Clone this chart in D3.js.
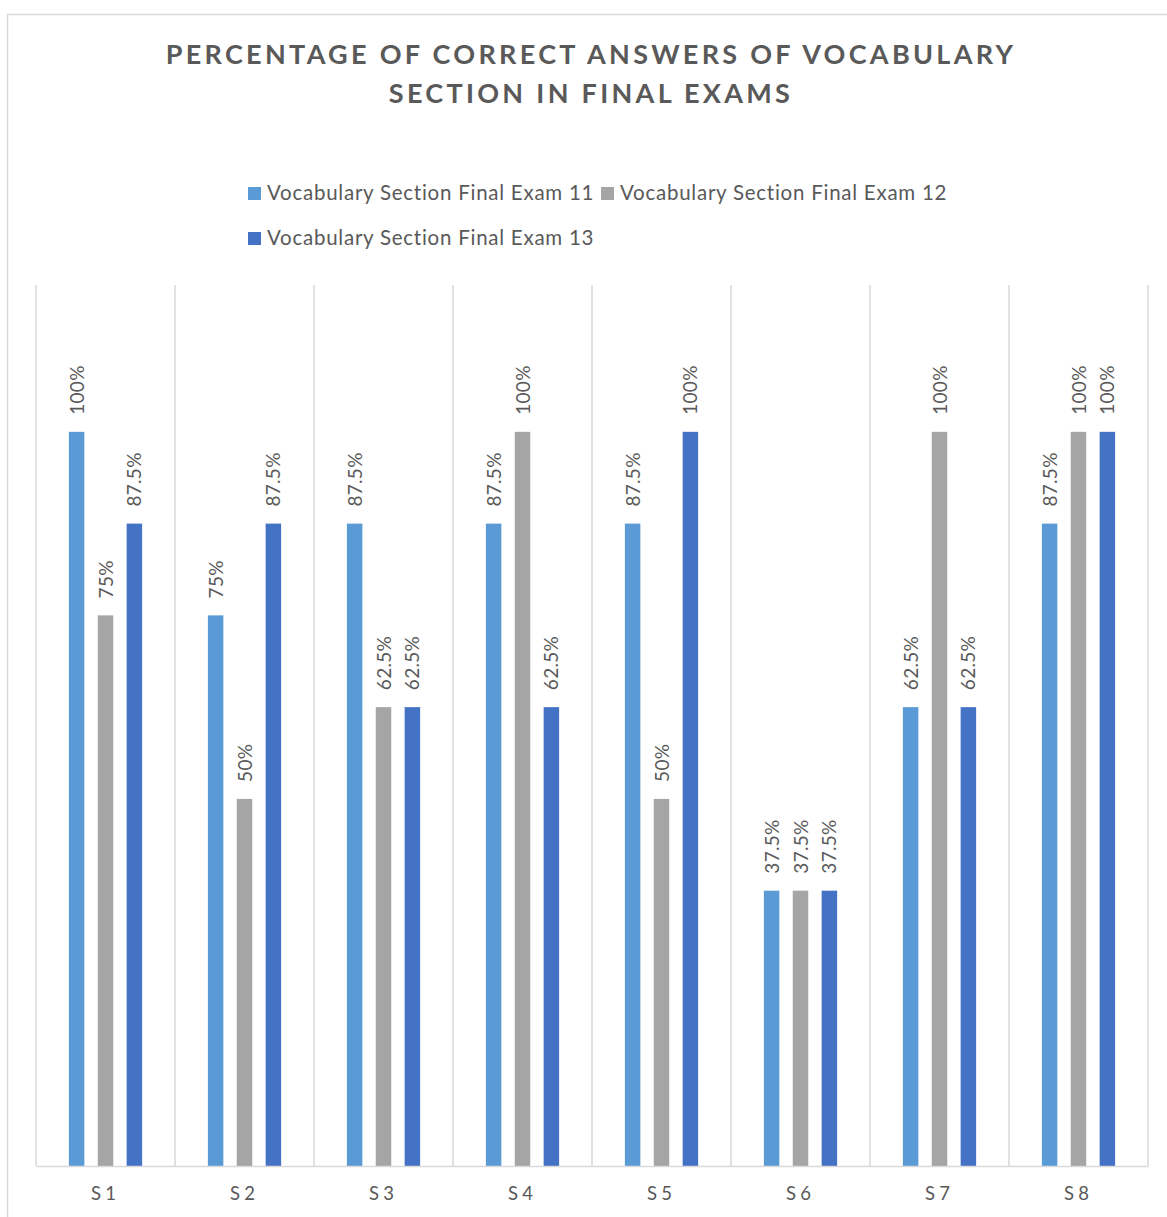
<!DOCTYPE html>
<html>
<head>
<meta charset="utf-8">
<script src="https://cdn.jsdelivr.net/npm/d3@7"></script>
<style>
  html, body { margin: 0; padding: 0; background: #fff; }
  svg { display: block; }
</style>
</head>
<body>
<svg id="chart" width="1167" height="1217"></svg>
<script>
// Data
const students = ["S1", "S2", "S3", "S4", "S5", "S6", "S7", "S8"];
const seriesNames = [
  "Vocabulary Section Final Exam 11",
  "Vocabulary Section Final Exam 12",
  "Vocabulary Section Final Exam 13"
];
const exam11 = [100, 75, 87.5, 87.5, 87.5, 37.5, 62.5, 87.5];
const exam12 = [75, 50, 62.5, 100, 50, 37.5, 100, 100];
const exam13 = [87.5, 87.5, 62.5, 62.5, 100, 37.5, 62.5, 100];
const seriesValues = [exam11, exam12, exam13];
const seriesColors = ["#5B9BD5", "#A5A5A5", "#4472C4"];
const titleLines = ["PERCENTAGE OF CORRECT ANSWERS OF VOCABULARY", "SECTION IN FINAL EXAMS"];

const svg = d3.select("#chart");
const W = 1167, H = 1217;
const textColor = "#595959";
const font = "Lato, 'Open Sans', sans-serif";

// Chart frame
svg.append("rect")
  .attr("x", 7.5).attr("y", 14.5)
  .attr("width", W + 10).attr("height", H)
  .attr("fill", "#fff").attr("stroke", "#d9d9d9").attr("stroke-width", 1.5);

// Title
svg.append("g").selectAll("text")
  .data(titleLines)
  .join("text")
  .attr("x", 591)
  .attr("y", (d, i) => 64 + i * 39)
  .attr("text-anchor", "middle")
  .attr("font-family", font)
  .attr("font-weight", "bold")
  .attr("font-size", 27)
  .attr("letter-spacing", 3.3)
  .attr("fill", textColor)
  .text(d => d);

// Legend
const legendPos = [{x: 248, y: 200}, {x: 601, y: 200}, {x: 248, y: 245}];
const legend = svg.append("g").selectAll("g")
  .data(seriesNames)
  .join("g")
  .attr("transform", (d, i) => `translate(${legendPos[i].x},${legendPos[i].y})`);
legend.append("rect")
  .attr("x", 0).attr("y", -13)
  .attr("width", 13).attr("height", 13)
  .attr("fill", (d, i) => seriesColors[i]);
legend.append("text")
  .attr("x", 19).attr("y", 0)
  .attr("font-family", font)
  .attr("font-size", 20.5)
  .attr("letter-spacing", 0.75)
  .attr("fill", textColor)
  .text(d => d);

// Scales
const plot = {left: 36, right: 1148, top: 285, bottom: 1166};
const x0 = d3.scaleBand().domain(students).range([plot.left, plot.right]).padding(0);
const y = d3.scaleLinear().domain([0, 120]).range([plot.bottom, plot.top]);
const groupW = x0.bandwidth() * 0.527;
const x1 = d3.scaleBand().domain(d3.range(3))
  .range([(x0.bandwidth() - groupW) / 2, (x0.bandwidth() + groupW) / 2])
  .paddingInner(0.464).paddingOuter(0);

// Vertical gridlines at category boundaries
const bounds = students.map(s => x0(s)).concat([plot.right]);
svg.append("g").selectAll("line")
  .data(bounds)
  .join("line")
  .attr("x1", d => d).attr("x2", d => d)
  .attr("y1", plot.top).attr("y2", plot.bottom)
  .attr("stroke", "#d9d9d9").attr("stroke-width", 1.5);

// Bars and value labels
const fmt = v => `${v}%`;
const groups = svg.append("g").selectAll("g")
  .data(students)
  .join("g")
  .attr("transform", s => `translate(${x0(s)},0)`);

const cells = groups.selectAll("g")
  .data((s, si) => seriesValues.map((vals, k) => ({k, v: vals[si]})))
  .join("g");

cells.append("rect")
  .attr("x", d => x1(d.k))
  .attr("y", d => y(d.v))
  .attr("width", x1.bandwidth())
  .attr("height", d => plot.bottom - y(d.v))
  .attr("fill", d => seriesColors[d.k]);

cells.append("text")
  .attr("transform", d => `translate(${x1(d.k) + x1.bandwidth() / 2 + 7},${y(d.v) - 17}) rotate(-90)`)
  .attr("font-family", font)
  .attr("font-size", 19)
  .attr("letter-spacing", 0.3)
  .attr("fill", textColor)
  .text(d => fmt(d.v));

// Category axis
const xAxis = svg.append("g")
  .attr("transform", `translate(0,${plot.bottom})`)
  .call(d3.axisBottom(x0).tickSize(0).tickPadding(21));
xAxis.select(".domain").attr("stroke", "#d9d9d9").attr("stroke-width", 1.5);
xAxis.selectAll("text")
  .attr("font-family", font)
  .attr("font-size", 18.5)
  .attr("letter-spacing", 4)
  .attr("fill", textColor);
</script>
</body>
</html>
